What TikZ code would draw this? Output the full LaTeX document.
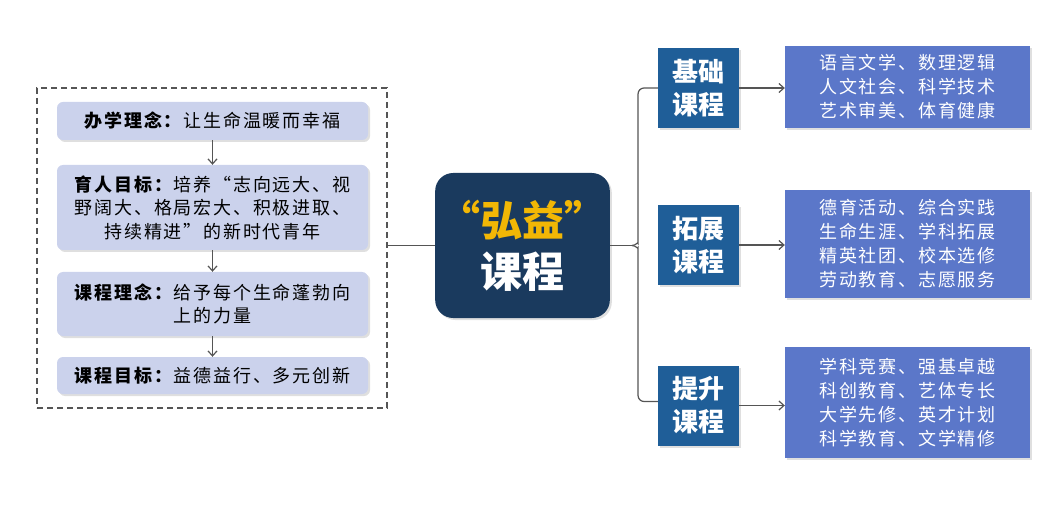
\documentclass[tikz,border=0pt]{standalone}
\usepackage{fontspec}
\setmainfont{Noto Sans CJK SC}
\newfontfamily\spaced{Noto Sans CJK SC}[LetterSpace=10]
\usetikzlibrary{positioning,arrows.meta,shadows}
\definecolor{lavender}{HTML}{CBD2EC}
\definecolor{navy}{HTML}{1A3A5E}
\definecolor{gold}{HTML}{F2B705}
\definecolor{steel}{HTML}{1F5E98}
\definecolor{skyblue}{HTML}{5B77C9}
\definecolor{linegray}{HTML}{555555}

\begin{document}
\begin{tikzpicture}[x=1pt, y=-1pt,
  softshadow/.style={drop shadow={opacity=0.25, shadow xshift=2pt, shadow yshift=-2pt}},
  idea/.style={fill=lavender, rounded corners=6pt, minimum width=311pt, text width=300pt, align=center, font=\spaced\fontsize{18}{23.5}\selectfont, softshadow},
  hub/.style={fill=navy, rounded corners=18pt, text=white, minimum width=169pt, minimum height=145pt, align=center, font=\fontsize{42}{51}\selectfont\bfseries, softshadow},
  kind/.style={fill=steel, text=white, minimum width=81pt, minimum height=80pt, align=center, font=\fontsize{26}{33}\selectfont\bfseries, softshadow},
  item/.style={fill=skyblue, text=white, minimum width=245pt, align=center, font=\spaced\fontsize{18}{24}\selectfont, softshadow},
  link/.style={draw=linegray, line width=1.2pt},
  flow/.style={link, -{Straight Barb[length=5pt, width=9pt]}}]
\useasboundingbox (0,0) rectangle (1064,510);

\node[draw=linegray, line width=1.3pt, dash pattern=on 6pt off 4pt, minimum width=350pt, minimum height=320pt] (frame) at (212,248) {};
\node[idea, minimum height=38pt] (banxue) at (212.5,121) {\textbf{办学理念：}让生命温暖而幸福};
\node[idea, minimum height=85pt] (yuren) at (212.5,207.5) {\textbf{育人目标：}培养“志向远大、视\\野阔大、格局宏大、积极进取、\\持续精进”的新时代青年};
\node[idea, minimum height=64pt] (linian) at (212.5,304) {\textbf{课程理念：}给予每个生命蓬勃向\\上的力量};
\node[idea, minimum height=37pt] (mubiao) at (212.5,375.5) {\textbf{课程目标：}益德益行、多元创新};
\draw[flow] (banxue) -- (yuren);
\draw[flow] (yuren) -- (linian);
\draw[flow] (linian) -- (mubiao);

\node[hub] (hongyi) at (522.5,245.5) {\textcolor{gold}{“弘益”}\\课程};
\draw[link] (hongyi.west) -- (hongyi.west -| frame.east);

\node[kind] (jichu) at (698.5,88) {基础\\课程};
\node[kind] (tuozhan) at (698.5,245) {拓展\\课程};
\node[kind] (tisheng) at (698.5,405.5) {提升\\课程};

\node[item, minimum height=82pt] (jichuitem) at (907.5,87) {语言文学、数理逻辑\\人文社会、科学技术\\艺术审美、体育健康};
\node[item, minimum height=108pt] (tuozhanitem) at (907.5,244) {德育活动、综合实践\\生命生涯、学科拓展\\精英社团、校本选修\\劳动教育、志愿服务};
\node[item, minimum height=111pt] (tishengitem) at (907.5,402.5) {学科竞赛、强基卓越\\科创教育、艺体专长\\大学先修、英才计划\\科学教育、文学精修};

\coordinate (tip) at ([xshift=22pt]hongyi.east);
\coordinate (spine) at ([xshift=6pt]tip);
\draw[link] (hongyi.east) -- (tip);
\draw[link, rounded corners=6pt] (jichu.west) -| ([yshift=8pt]spine) [sharp corners] to[out=-90, in=0] (tip);
\draw[link, rounded corners=6pt] ([yshift=4pt]tisheng.west) -| ([yshift=-8pt]spine) [sharp corners] to[out=90, in=0] (tip);

\draw[flow] (jichu) -- (jichuitem.west |- jichu);
\draw[flow] (tuozhan) -- (tuozhanitem.west |- tuozhan);
\draw[flow] (tisheng) -- (tishengitem.west |- tisheng);
\end{tikzpicture}
\end{document}
